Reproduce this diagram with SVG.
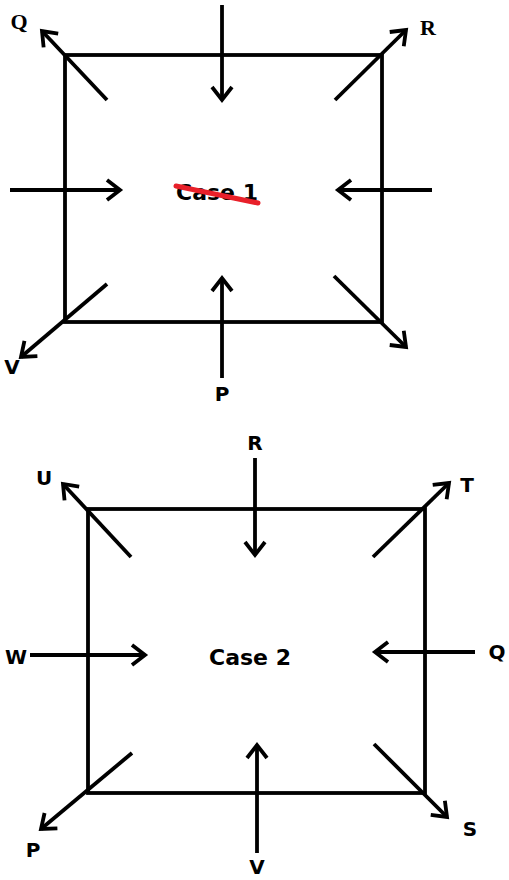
<svg xmlns="http://www.w3.org/2000/svg" width="509" height="880" viewBox="0 0 509 880">
<style>
.box{fill:none;stroke:#000;stroke-width:3.8}
.ar{fill:none;stroke:#000;stroke-width:3.8;marker-end:url(#ah)}
.lb{font-family:"DejaVu Sans",Verdana,sans-serif;font-weight:bold;font-size:20px;fill:#000;text-anchor:middle}
.sf{font-family:"Liberation Serif","Times New Roman",serif;font-weight:bold;font-size:22px;fill:#000;text-anchor:middle}
.ct{font-family:"DejaVu Sans",Verdana,sans-serif;font-weight:bold;font-size:22px;fill:#000;text-anchor:middle}
</style>
<defs>
<marker id="ah" markerUnits="userSpaceOnUse" markerWidth="30" markerHeight="30" refX="0" refY="0" viewBox="-15 -15 30 30" orient="auto">
<path d="M-13,-10 L0,0 L-13,10" fill="none" stroke="#000" stroke-width="3.8" stroke-linejoin="miter"/>
</marker>
</defs>
<g id="case1">
<rect class="box" x="65" y="55" width="317" height="267"/>
<text class="ct" x="217" y="200">Case 1</text>
<line x1="176" y1="186" x2="258" y2="203" stroke="#e8202a" stroke-width="5" stroke-linecap="round"/>
</g>
<g id="labels1">
<text class="sf" x="19" y="29">Q</text>
<text class="sf" x="428" y="35">R</text>
<text class="lb" x="12" y="374">V</text>
<text class="lb" x="222" y="401">P</text>
</g>
<g id="case2">
<rect class="box" x="88" y="509" width="337" height="284"/>
<text class="ct" x="250" y="665">Case 2</text>
</g>
<g id="labels2">
<text class="lb" x="255" y="450">R</text>
<text class="lb" x="44" y="485">U</text>
<text class="lb" x="467" y="492">T</text>
<text class="lb" x="16" y="664">W</text>
<text class="lb" x="497" y="659">Q</text>
<text class="lb" x="33" y="857">P</text>
<text class="lb" x="470" y="836">S</text>
<text class="lb" x="257" y="874">V</text>
</g>
<g id="connectors">
<line class="ar" x1="222" y1="5" x2="222" y2="100"/>
<line class="ar" x1="222" y1="378" x2="222" y2="278"/>
<line class="ar" x1="10" y1="190" x2="120" y2="190"/>
<line class="ar" x1="432" y1="190" x2="338" y2="190"/>
<line class="ar" x1="107" y1="100" x2="42" y2="31"/>
<line class="ar" x1="335" y1="100" x2="406" y2="30"/>
<line class="ar" x1="107" y1="284" x2="21" y2="357"/>
<line class="ar" x1="334" y1="276" x2="406" y2="347"/>
<line class="ar" x1="255" y1="458" x2="255" y2="555"/>
<line class="ar" x1="257" y1="853" x2="257" y2="745"/>
<line class="ar" x1="30" y1="655" x2="145" y2="655"/>
<line class="ar" x1="475" y1="652" x2="375" y2="652"/>
<line class="ar" x1="131" y1="557" x2="63" y2="484"/>
<line class="ar" x1="373" y1="557" x2="449" y2="483"/>
<line class="ar" x1="132" y1="753" x2="41" y2="829"/>
<line class="ar" x1="374" y1="744" x2="447" y2="817"/>
</g>
</svg>
